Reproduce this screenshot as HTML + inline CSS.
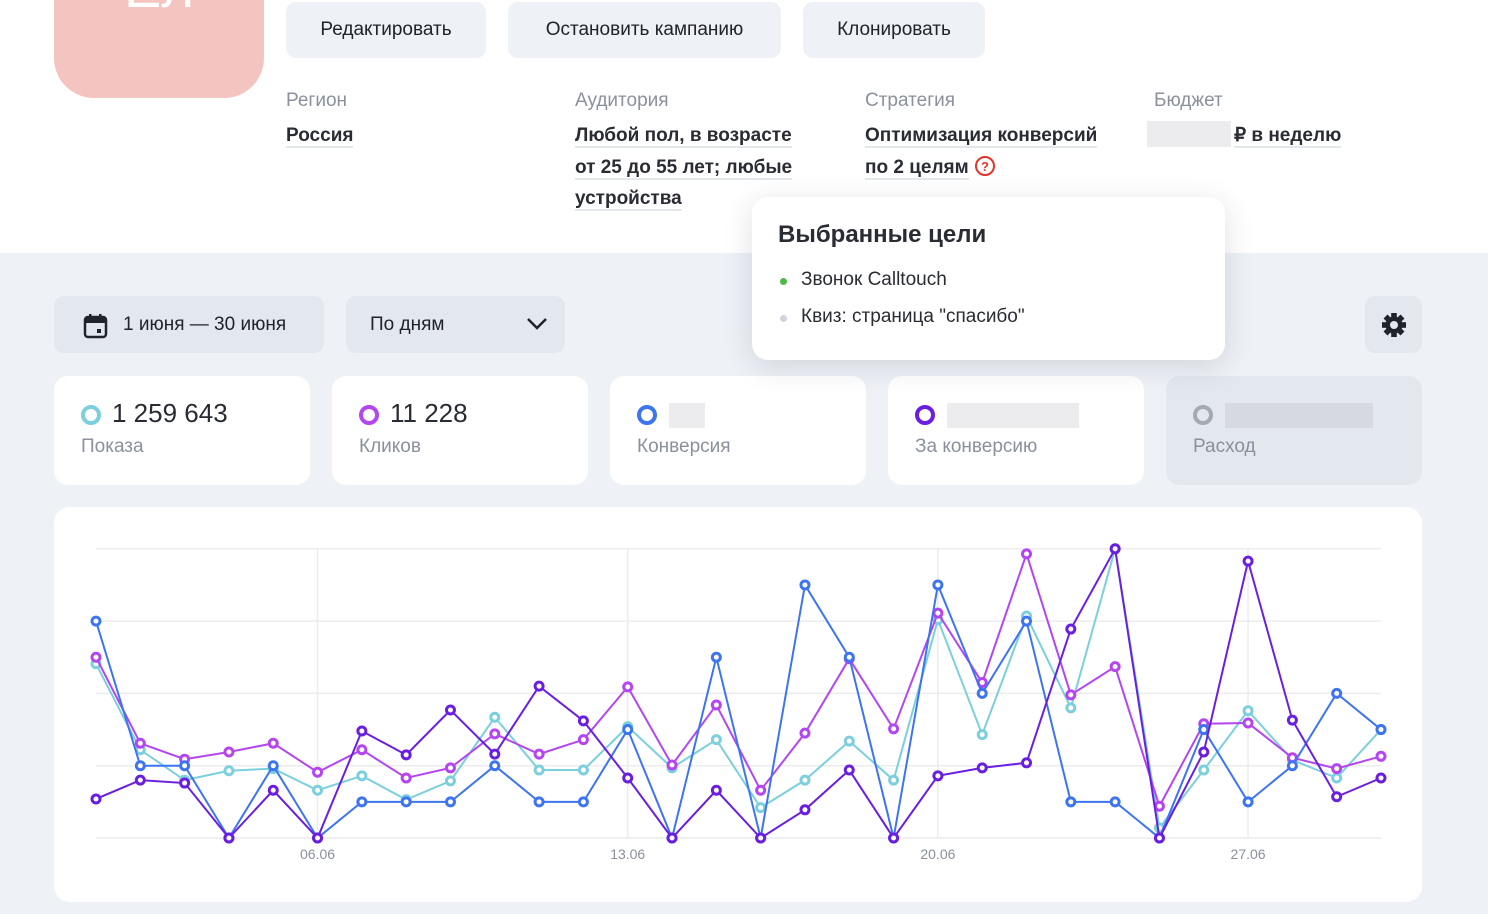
<!DOCTYPE html>
<html><head><meta charset="utf-8">
<style>
*{box-sizing:border-box;margin:0;padding:0}
body{width:1488px;height:914px;overflow:hidden;background:#eef1f6;font-family:"Liberation Sans",sans-serif;color:#21232a;position:relative}
.top{position:absolute;left:0;top:0;width:1488px;height:253px;background:#fff}
.avatar{position:absolute;left:54px;top:-40px;width:210px;height:138px;background:#f3c4c0;border-radius:0 0 40px 40px;color:#fff;font-size:56px;text-align:center;line-height:56px}
.btn{position:absolute;top:2px;height:56px;background:#eef1f6;border-radius:10px;font-size:19px;line-height:56px;text-align:center;color:#21232a}
.lbl{position:absolute;top:90px;font-size:19px;color:#8a919c}
.val{position:absolute;top:120px;font-size:19px;font-weight:bold;line-height:31.5px;color:#2a2c33}
.val span{border-bottom:2px solid #e4e7ec}
.tip{position:absolute;left:752px;top:197px;width:473px;height:163px;background:#fff;border-radius:16px;box-shadow:0 6px 30px rgba(30,40,60,.14);z-index:3}
.tip h3{position:absolute;left:26px;top:24px;font-size:24px;font-weight:bold;color:#2a2c33}
.tip .it{position:absolute;left:49px;font-size:19px;color:#2a2c33}
.tip .dot{position:absolute;left:-21px;top:9px;width:7px;height:7px;border-radius:50%}
.pill{position:absolute;top:296px;height:57px;background:#e3e7ee;border-radius:10px;font-size:19px;line-height:57px;color:#21232a}
.card{position:absolute;top:376px;width:256px;height:109px;background:#fff;border-radius:14px}
.card .num{position:absolute;left:58px;top:22px;font-size:26px;color:#2a2c33}
.card .ring{position:absolute;left:27px;top:29px;width:20px;height:20px;border-radius:50%;border:4.5px solid}
.card .nm{position:absolute;left:27px;top:60px;font-size:19px;color:#8a919c}
.blur{position:absolute;top:27px;height:25px;background:#ececee}
.chart{position:absolute;left:54px;top:507px;width:1368px;height:395px;background:#fff;border-radius:16px}
</style></head><body>
<div class="top"></div>
<div class="avatar">Ел</div>
<div class="btn" style="left:286px;width:200px">Редактировать</div>
<div class="btn" style="left:508px;width:273px">Остановить кампанию</div>
<div class="btn" style="left:803px;width:182px">Клонировать</div>

<div class="lbl" style="left:286px">Регион</div>
<div class="val" style="left:286px"><span>Россия</span></div>
<div class="lbl" style="left:575px">Аудитория</div>
<div class="val" style="left:575px;width:240px"><span>Любой пол, в возрасте</span><br><span>от 25 до 55 лет; любые</span><br><span>устройства</span></div>
<div class="lbl" style="left:865px">Стратегия</div>
<div class="val" style="left:865px;width:270px"><span>Оптимизация конверсий</span><br><span>по 2 целям</span> <svg width="22" height="22" viewBox="0 0 22 22" style="vertical-align:-4px"><circle cx="11" cy="11" r="9" fill="none" stroke="#e2342a" stroke-width="2"/><text x="11" y="16" font-size="13" text-anchor="middle" fill="#e2342a" font-family="Liberation Sans">?</text></svg></div>
<div class="lbl" style="left:1154px">Бюджет</div>
<div style="position:absolute;left:1147px;top:121px;width:84px;height:26px;background:#ececee"></div>
<div class="val" style="left:1234px"><span>₽ в неделю</span></div>

<div class="tip">
<h3>Выбранные цели</h3>
<div class="it" style="top:72px"><i class="dot" style="background:#4cb848"></i>Звонок Calltouch</div>
<div class="it" style="top:109px"><i class="dot" style="background:#d0d4dc"></i>Квиз: страница "спасибо"</div>
</div>

<div class="pill" style="left:54px;width:270px">
<svg style="position:absolute;left:29px;top:17px" width="26" height="26" viewBox="0 0 26 26"><rect x="2" y="4" width="21" height="20" rx="3" fill="none" stroke="#21232a" stroke-width="2.5"/><rect x="2" y="4" width="21" height="6" fill="#21232a"/><rect x="6" y="1" width="2.5" height="5" fill="#21232a"/><rect x="16" y="1" width="2.5" height="5" fill="#21232a"/><rect x="14" y="16" width="4" height="4" fill="#21232a"/></svg>
<span style="position:absolute;left:69px">1 июня — 30 июня</span></div>
<div class="pill" style="left:346px;width:219px"><span style="position:absolute;left:24px">По дням</span>
<svg style="position:absolute;left:180px;top:21px" width="22" height="14" viewBox="0 0 22 14"><path d="M2 2 L11 11 L20 2" fill="none" stroke="#21232a" stroke-width="2.5"/></svg></div>
<div class="pill" style="left:1365px;width:57px">
<svg style="position:absolute;left:16px;top:16px" width="26" height="26" viewBox="-13 -13 26 26"><g fill="#21232a"><circle r="8.5"/><rect x="-2.8" y="-12" width="5.6" height="24"/><rect x="-2.8" y="-12" width="5.6" height="24" transform="rotate(45)"/><rect x="-2.8" y="-12" width="5.6" height="24" transform="rotate(90)"/><rect x="-2.8" y="-12" width="5.6" height="24" transform="rotate(135)"/></g><circle r="4" fill="#e3e7ee"/></svg></div>

<div class="card" style="left:54px"><i class="ring" style="border-color:#7ccfdc"></i><div class="num">1 259 643</div><div class="nm">Показа</div></div>
<div class="card" style="left:332px"><i class="ring" style="border-color:#b445f0"></i><div class="num">11 228</div><div class="nm">Кликов</div></div>
<div class="card" style="left:610px"><i class="ring" style="border-color:#3d74f0"></i><div class="blur" style="left:59px;width:36px"></div><div class="nm">Конверсия</div></div>
<div class="card" style="left:888px"><i class="ring" style="border-color:#6a1fe0"></i><div class="blur" style="left:59px;width:132px"></div><div class="nm">За конверсию</div></div>
<div class="card" style="left:1166px;background:#e3e7ee"><i class="ring" style="border-color:#a4a9b2"></i><div class="blur" style="left:59px;width:148px;background:#d6d9df"></div><div class="nm">Расход</div></div>

<div class="chart">
<svg id="chart" width="1368" height="395"></svg>
</div>
<script>
const days=[1,2,3,4,5,6,7,8,9,10,11,12,13,14,15,16,17,18,19,20,21,22,23,24,25,26,27,28,29,30];
const tickDays=[6,13,20,27];
const tickLabels=["06.06","13.06","20.06","27.06"];
const gridValues=[0,1,2,3,4];
const impressions=[2.41,1.22,0.8,0.93,0.96,0.66,0.86,0.53,0.79,1.67,0.94,0.94,1.54,0.97,1.36,0.42,0.8,1.34,0.8,3.02,1.43,3.07,1.8,4.0,0.14,0.94,1.76,1.08,0.83,1.5];
const clicks=[2.5,1.31,1.09,1.19,1.31,0.91,1.22,0.83,0.97,1.44,1.16,1.36,2.09,1.01,1.84,0.66,1.45,2.48,1.51,3.11,2.15,3.93,1.98,2.37,0.44,1.58,1.59,1.11,0.96,1.13];
const conversions=[3,1,1,0,1,0,0.5,0.5,0.5,1,0.5,0.5,1.5,0,2.5,0,3.5,2.5,0,3.5,2,3,0.5,0.5,0,1.5,0.5,1,2,1.5];
const costPerConv=[0.54,0.8,0.76,0,0.66,0,1.48,1.15,1.77,1.16,2.1,1.62,0.83,0,0.66,0,0.39,0.94,0,0.86,0.97,1.04,2.89,4.0,0,1.19,3.83,1.63,0.57,0.83];
const NS="http://www.w3.org/2000/svg";
const svg=document.getElementById('chart');
const x=d=>42+(d-1)*(1285/29);
const y=v=>331-v*72.3;
function mk(t,a){const e=document.createElementNS(NS,t);for(const k in a)e.setAttribute(k,a[k]);svg.appendChild(e);return e;}
gridValues.forEach(v=>{const l=mk('line',{x1:42,x2:1327,y1:y(v),y2:y(v),stroke:'#ececef','stroke-width':1.5});

});
tickDays.forEach((d,i)=>{const l=mk('line',{x1:x(d),x2:x(d),y1:y(4),y2:y(0),stroke:'#ececef','stroke-width':1.5});


const t=mk('text',{x:x(d),y:352,'text-anchor':'middle','font-size':14,fill:'#8a919c','font-family':'Liberation Sans'});t.textContent=tickLabels[i];

});
const series=[[impressions,'#7ccfdc','impressions'],[clicks,'#b445f0','clicks'],[conversions,'#3d74f0','conversions'],[costPerConv,'#6a1fe0','cost-per-conversion']];
series.forEach(([vals,c,n])=>{const p=mk('polyline',{points:vals.map((v,i)=>x(days[i])+','+y(v)).join(' '),fill:'none',stroke:c,'stroke-width':2});


vals.forEach((v,i)=>{const ci=mk('circle',{cx:x(days[i]),cy:y(v),r:4,fill:'#fff',stroke:c,'stroke-width':3});

});});
</script>
</body></html>
